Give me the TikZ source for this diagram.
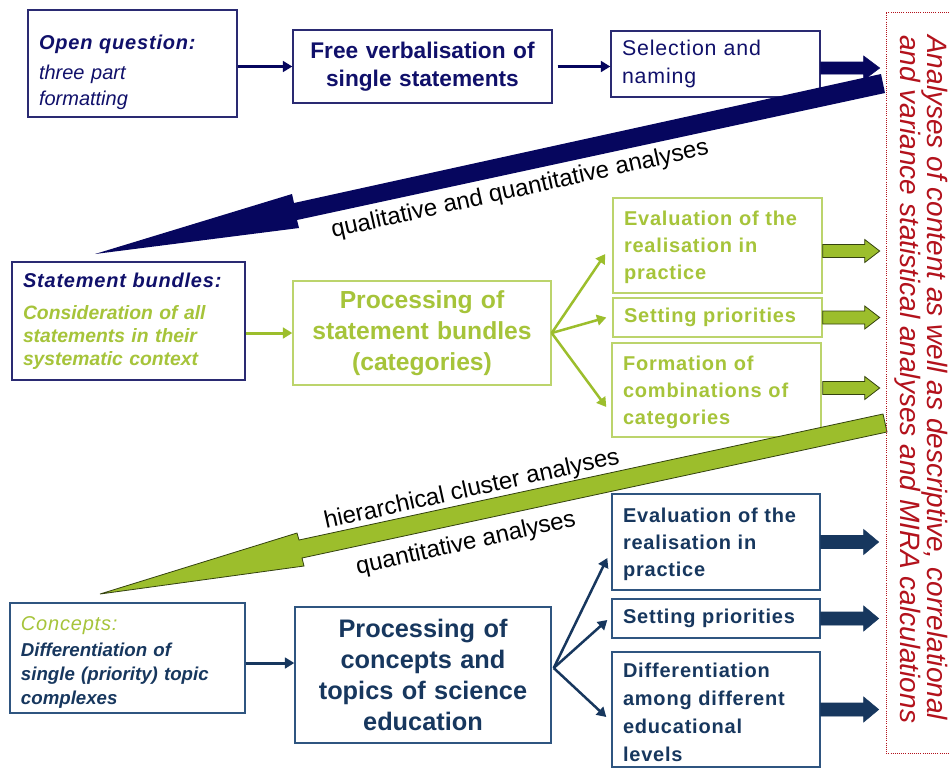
\documentclass[tikz,border=0pt]{standalone}
\usepackage{fontspec}
\setmainfont{Liberation Sans}
\newfontfamily\spc[LetterSpace=4]{Liberation Sans}
\usetikzlibrary{arrows.meta,calc}
\definecolor{navyT}{HTML}{10106A}
\definecolor{navyB}{HTML}{2A2A72}
\definecolor{navyA}{HTML}{06065E}
\definecolor{grT}{HTML}{A6C43A}
\definecolor{grB}{HTML}{BCD46C}
\definecolor{grA}{HTML}{9CBE2C}
\definecolor{grO}{HTML}{34420F}
\definecolor{blT}{HTML}{17375E}
\definecolor{blB}{HTML}{2F5580}
\definecolor{redT}{HTML}{B3121C}
\newcommand\PX[1]{(#1)*0.75pt}
\tikzset{
  lbox/.style 2 args={minimum width=\PX{#1}, minimum height=\PX{#2}, text width=\PX{#1-22}, inner xsep=\PX{11}, inner ysep=0pt, align=left, line width=\PX{1.4}},
  cbox/.style 2 args={minimum width=\PX{#1}, minimum height=\PX{#2}, text width=\PX{#1-10}, inner xsep=\PX{5}, inner ysep=0pt, align=center, line width=\PX{1.4}},
  arN/.style={draw=navyA, line width=\PX{3}, -{Triangle[length=7pt,width=8pt]}},
  arG/.style={draw=grA, line width=\PX{3}, -{Triangle[length=7pt,width=8pt]}},
  arB/.style={draw=blT, line width=\PX{3}, -{Triangle[length=7pt,width=8pt]}},
  blockG/.style={fill=grA, draw=grO, line width=0.6pt, line join=miter},
  blockB/.style={fill=blT, draw=blT, line width=0.4pt},
  blockN/.style={fill=navyA, draw=navyA, line width=0.4pt},
  lab/.style={text=black, font=\fontsize{18}{21}\selectfont, inner sep=0pt},
  smallbox/.style={font=\fontsize{15}{20.25}\selectfont\spc\bfseries},
}
\begin{document}
\begin{tikzpicture}[x=0.75pt,y=-0.75pt]
\fill[white] (0,0) rectangle (949,769);
\useasboundingbox (0,0) rectangle (949,769);

% ---------- top row ----------
\node[lbox={209}{107}, draw=navyB, text=navyT, font=\fontsize{15}{19.5}\selectfont\itshape] (q1) at (132.5,63.5)
  {\rule{0pt}{24pt}{\spc\bfseries Open question:}\\[3pt]three part\\formatting\par};
\node[cbox={259}{73}, draw=navyB, text=navyT, font=\fontsize{17}{21}\selectfont\bfseries] (fv) at (422.5,66.5)
  {Free verbalisation of\\single statements\par};
\node[lbox={209}{66}, draw=navyB, text=navyT, font=\fontsize{16}{21}\selectfont\spc] (sn) at (715.5,64)
  {Selection and\\naming\par};

\draw[arN] (q1.east |- fv.west) -- (fv.west);
\draw[arN, line width=\PX{2.5}, shorten <=\PX{5}] (fv.east) -- (fv.east -| sn.west);
\draw[blockN, shift={($(sn.east)+(0,4)$)}] (0,-6) -- (43,-6) -- (43,-12) -- (59,0) -- (43,12) -- (43,6) -- (0,6) -- cycle;

% big navy arrow
\fill[navyA] (95,254) -- (292,194) -- (294,203) -- (881,74) -- (885,93) -- (297,220) -- (299,228) -- cycle;
\node[lab, rotate=12.5] (l1) at (520,190) {qualitative and quantitative analyses};

% ---------- middle row ----------
\node[lbox={233}{118}, draw=navyB, text=grT, font=\fontsize{14.5}{17.25}\selectfont\bfseries\itshape] (sb) at (128.5,321)
  {{\fontsize{15}{19}\selectfont\spc\color{navyT}Statement bundles:}\\[7pt]
   Consideration of all\\statements in their\\systematic context\par};
\node[cbox={258}{104}, draw=grB, text=grT, font=\fontsize{18.5}{23.25}\selectfont\bfseries] (pb) at (422,333)
  {Processing of\\statement bundles\\(categories)\par};
\node[lbox={209}{95}, draw=grB, text=grT, smallbox] (e2) at (717.5,245.5)
  {\rule{0pt}{14pt}Evaluation of the\\realisation in\\practice\par};
\node[lbox={209}{39}, draw=grB, text=grT, smallbox] (s2) at (717.5,317.5)
  {Setting priorities\par};
\node[lbox={209}{94}, draw=grB, text=grT, smallbox] (f2) at (716.5,390)
  {\rule{0pt}{14pt}Formation of\\combinations of\\categories\par};

\draw[arG] (sb.east |- pb.west) -- (pb.west);
\draw[arG, line width=\PX{2.5}] (pb.east) -- ([shift={(-7,8.5)}]e2.west);
\draw[arG, line width=\PX{2.5}] (pb.east) -- ([shift={(-6,0)}]s2.west);
\draw[arG, line width=\PX{2.5}] (pb.east) -- ([shift={(-5,17)}]f2.west);

\draw[blockG, shift={($(e2.east)+(0,5.5)$)}] (0,-6.5) -- (42,-6.5) -- (42,-11.5) -- (57,0) -- (42,11.5) -- (42,6.5) -- (0,6.5) -- cycle;
\draw[blockG, shift={($(s2.east)+(0,0)$)}] (0,-6.5) -- (42,-6.5) -- (42,-11.5) -- (57,0) -- (42,11.5) -- (42,6.5) -- (0,6.5) -- cycle;
\draw[blockG, shift={($(f2.east)+(1,-2)$)}] (0,-6.5) -- (42,-6.5) -- (42,-11.5) -- (57,0) -- (42,11.5) -- (42,6.5) -- (0,6.5) -- cycle;

% big green arrow
\draw[fill=grA, draw=grO, line width=0.6pt] (100,594) -- (297,533) -- (299,540) -- (883,414) -- (887,432) -- (302,558) -- (304,566) -- cycle;
\node[lab, rotate=12.5] (l2) at (472,490) {hierarchical cluster analyses};
\node[lab, rotate=12.5] (l3) at (466,544) {quantitative analyses};

% ---------- bottom row ----------
\node[lbox={235}{110}, draw=blB, text=blT, font=\fontsize{14}{18}\selectfont\bfseries\itshape] (cc) at (127.5,658)
  {\rule{0pt}{17pt}{\fontsize{15}{19}\selectfont\mdseries\spc\color{grT}Concepts:}\\[1pt]
   Differentiation of\\single (priority) topic\\complexes\par};
\node[cbox={256}{136}, draw=blB, text=blT, font=\fontsize{19}{23.25}\selectfont\bfseries] (pc) at (423,675)
  {Processing of\\concepts and\\topics of science\\education\par};
\node[lbox={208}{96}, draw=blB, text=blT, smallbox] (e3) at (716,542)
  {\rule{0pt}{14pt}Evaluation of the\\realisation in\\practice\par};
\node[lbox={208}{39}, draw=blB, text=blT, smallbox] (s3) at (716,618.5)
  {Setting priorities\par};
\node[lbox={208}{115}, draw=blB, text=blT, smallbox, font=\fontsize{15}{21}\selectfont\spc\bfseries] (d3) at (716,709.5)
  {\rule{0pt}{15pt}Differentiation\\among different\\educational\\levels\par};

\draw[arB] ($(cc.east)+(0,5)$) -- ($(cc.east -| pc.west)+(0,5)$);
\coordinate (pcv) at ($(pc.east)+(2,-7)$);
\draw[arB, line width=\PX{2.5}] (pcv) -- ([shift={(-4,16)}]e3.west);
\draw[arB, line width=\PX{2.5}] (pcv) -- ([shift={(-4,1.5)}]s3.west);
\draw[arB, line width=\PX{2.5}] (pcv) -- ([shift={(-5,7.5)}]d3.west);

\draw[blockB, shift={(e3.east)}] (0,-6.5) -- (43,-6.5) -- (43,-12.5) -- (58,0) -- (43,12.5) -- (43,6.5) -- (0,6.5) -- cycle;
\draw[blockB, shift={(s3.east)}] (0,-6.5) -- (43,-6.5) -- (43,-12.5) -- (58,0) -- (43,12.5) -- (43,6.5) -- (0,6.5) -- cycle;
\draw[blockB, shift={(d3.east)}] (0,-6.5) -- (43,-6.5) -- (43,-12.5) -- (58,0) -- (43,12.5) -- (43,6.5) -- (0,6.5) -- cycle;

% ---------- right panel ----------
\draw[redT, densely dotted, line width=0.6pt] (949,12) -- (886,12) -- (886,753) -- (949,753);
\node[rotate=-90, anchor=west, align=left, text=redT, inner sep=0pt, font=\fontsize{21}{19}\selectfont\itshape] (anl) at (921,35)
  {Analyses of content as well as descriptive, correlational\\and variance statistical analyses and MIRA calculations};
\end{tikzpicture}
\end{document}
